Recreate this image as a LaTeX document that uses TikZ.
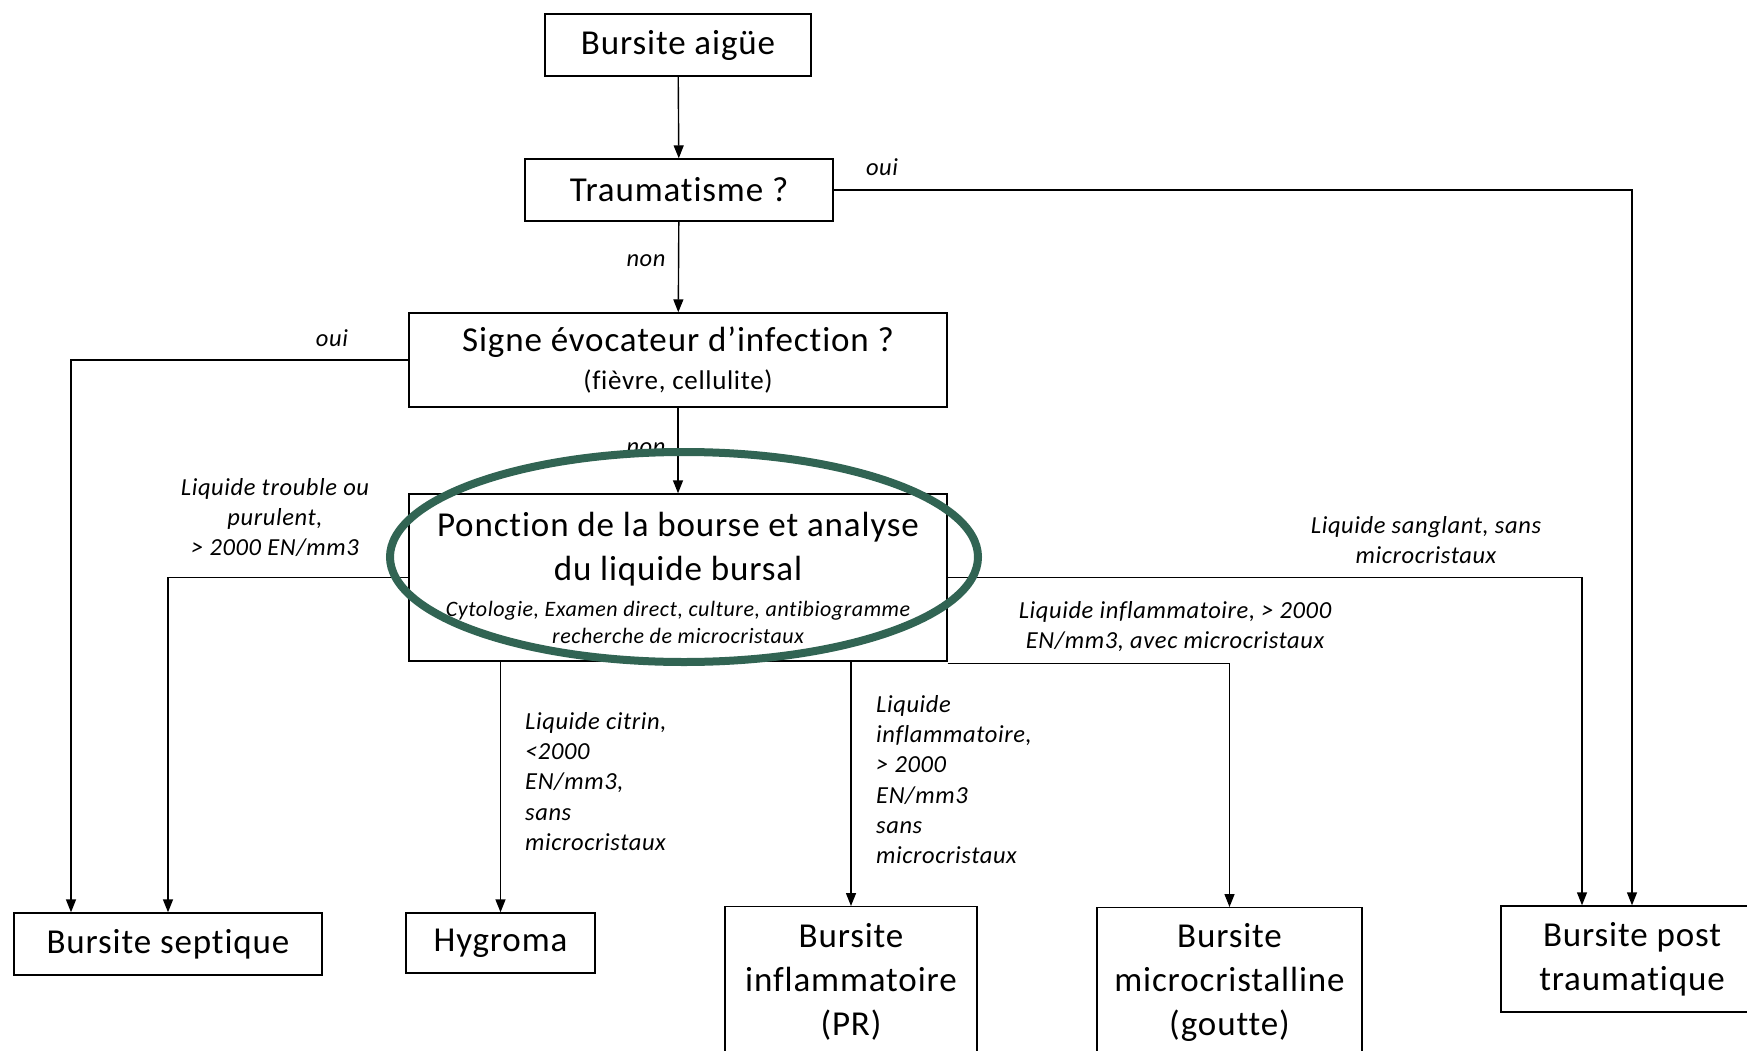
\documentclass[tikz,border=0pt]{standalone}
\usepackage{fontspec}
\setmainfont{Carlito}[LetterSpace=2.5,Ligatures=NoCommon]
\usetikzlibrary{arrows.meta,calc}
\definecolor{ovalgreen}{RGB}{49,100,83}
\newcommand{\subfnt}{\fontsize{22}{27}\selectfont\itshape}
\begin{document}
\begin{tikzpicture}[x=1pt,y=-1pt,
  box/.style={draw,line width=1.4pt,rectangle,inner sep=0pt,align=center,font=\fontsize{35}{44}\selectfont},
  arr/.style={line width=1.4pt,-{Triangle[width=10pt,length=13pt]}},
  lbl/.style={font=\fontsize{24.5}{30}\selectfont\itshape,align=center,inner sep=0pt},
  lbll/.style={font=\fontsize{24.5}{30.3}\selectfont\itshape,align=left,inner sep=0pt,anchor=north west}]
\useasboundingbox (0,0) rectangle (1747,1051);
\fill[white] (0,0) rectangle (1747,1051);
% boxes
\node[box,minimum width=266pt,minimum height=62pt] (aigue) at (678,45) {Bursite aigüe};
\node[box,minimum width=308pt,minimum height=62pt] (trauma) at (679,190) {Traumatisme ?};
\node[box,minimum width=538pt,minimum height=94pt] (signe) at (678,360) {Signe évocateur d’infection ?\\[-6pt]\fontsize{27}{30}\selectfont (fièvre, cellulite)};
\node[box,minimum width=538pt,minimum height=167pt] (ponction) at (678,577.5) {Ponction de la bourse et analyse\\du liquide bursal\\[-8pt]\subfnt Cytologie, Examen direct, culture, antibiogramme\\[-17pt]\subfnt recherche de microcristaux};
\node[box,minimum width=308pt,minimum height=62pt] (septique) at (168,944) {Bursite septique};
\node[box,minimum width=189pt,minimum height=60pt] (hygroma) at (500.5,943) {Hygroma};
\node[box,minimum width=252pt,minimum height=150pt,anchor=north] (inflam) at (851,906) {Bursite\\inflammatoire\\(PR)};
\node[box,minimum width=265pt,minimum height=150pt,anchor=north] (micro) at (1229.5,907) {Bursite\\microcristalline\\(goutte)};
\node[box,minimum width=262pt,minimum height=106pt] (post) at (1632,959) {Bursite post\\traumatique};
% connectors
\draw[arr] (aigue) -- (trauma);
\draw[arr] (trauma) -- (signe);
\draw[arr] (signe) -- (ponction);
\draw[arr] (trauma.east) -| (post.north);
\draw[arr] (signe.west) -| ([xshift=-97pt]septique.north);
\draw[arr] (ponction.west) -| (septique.north);
\draw[arr] (hygroma.north |- ponction.south) -- (hygroma.north);
\draw[arr] (inflam.north |- ponction.south) -- (inflam.north);
\draw[arr] ([yshift=-1.5pt]ponction.south east) -| (micro.north);
\draw[arr] (ponction.east) -| ([xshift=-50pt]post.north);
% labels
\node[lbl] (l1) at (882,167) {oui};
\node[lbl] (l2) at (646,261) {non};
\node[lbl] (l3) at (332,338) {oui};
\node[lbl] (l4) at (646,449) {non};
\node[lbl] (l5) at (275,518) {Liquide trouble ou\\purulent,\\> 2000 EN/mm3};
\node[lbl] (l6) at (1426,540) {Liquide sanglant, sans\\microcristaux};
\node[lbl] (l7) at (1175,627) {Liquide inflammatoire, > 2000\\EN/mm3, avec microcristaux};
\node[lbll] (l8) at (525,712) {Liquide citrin,\\<2000\\EN/mm3,\\sans\\microcristaux};
\node[lbll] (l9) at (876,695) {Liquide\\inflammatoire,\\> 2000\\EN/mm3\\sans\\microcristaux};
% highlight oval
\draw[ovalgreen,line width=8pt] (684,557) ellipse [x radius=294pt,y radius=105pt];
\end{tikzpicture}
\end{document}
